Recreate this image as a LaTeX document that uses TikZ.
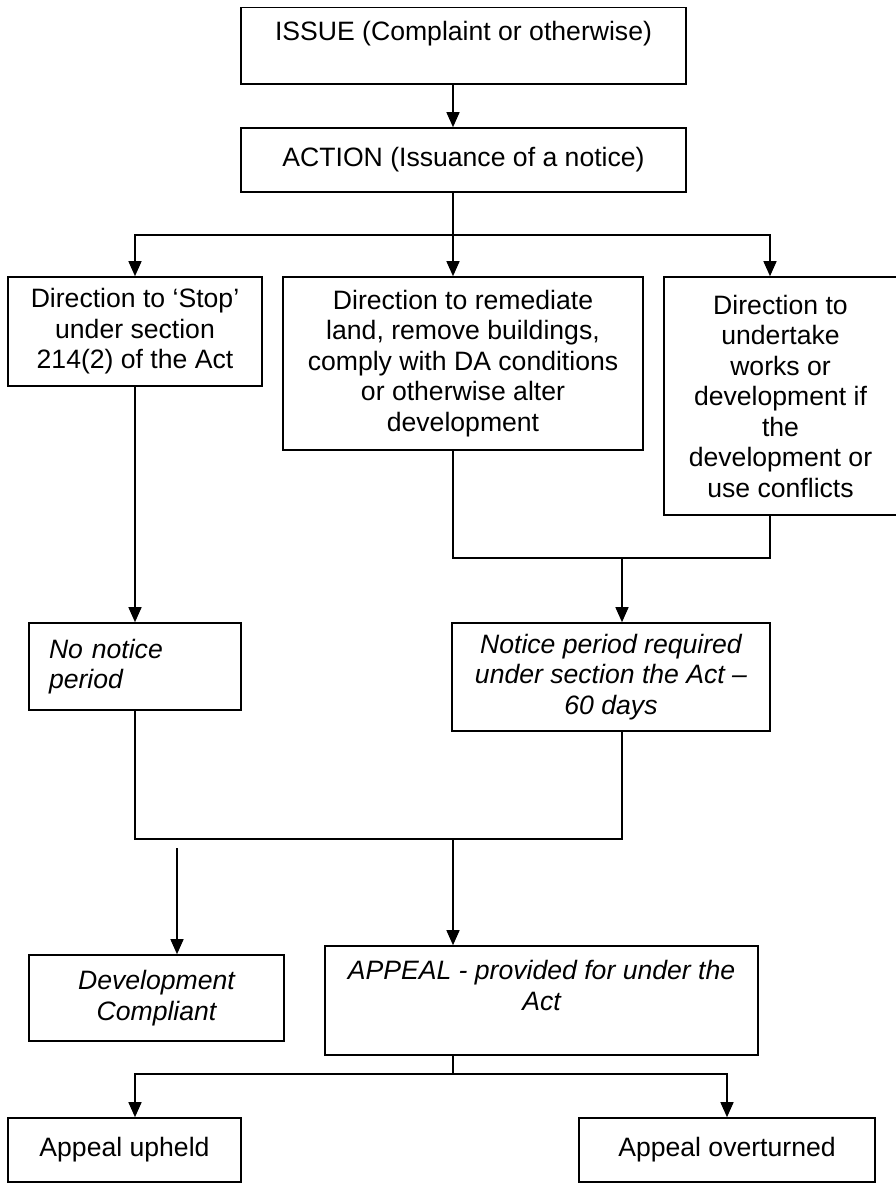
\documentclass[tikz,border=0pt]{standalone}
\usepackage{fontspec}
\setmainfont{Liberation Sans}
\usetikzlibrary{arrows.meta}

\begin{document}
\begin{tikzpicture}[x=1pt, y=-1pt, line width=1.4pt,
        box/.style={draw, line width=1.6pt, inner sep=0pt, align=center, font=\fontsize{26.6}{30.5}\selectfont},
        note/.style={box, font=\fontsize{26.6}{30.5}\selectfont\itshape},
        >={Triangle[length=15pt, width=13pt]}]
        \useasboundingbox (0,0) rectangle (895,1183);
        % boxes
        \node[box, minimum width=445pt, minimum height=76.5pt] (issue) at (463.5,45.75) {ISSUE (Complaint or otherwise)\\~};
        \node[box, minimum width=445pt, minimum height=64pt] (action) at (463.5,160) {ACTION (Issuance of a notice)};
        \node[box, minimum width=254pt, minimum height=109pt] (stop) at (135,331.5) {Direction to ‘Stop’\\under section\\214(2) of the Act};
        \node[box, minimum width=360pt, minimum height=173pt] (remed) at (463,363.5) {Direction to remediate\\land, remove buildings,\\comply with DA conditions\\or otherwise alter\\development};
        \node[box, minimum width=233pt, minimum height=238pt] (under) at (780.5,396) {Direction to\\undertake\\works or\\development if\\the\\development or\\use conflicts};
        \node[note, align=left, text width=172pt, minimum width=212pt, minimum height=87pt] (nonotice) at (135,666.5) {No notice\\period};
        \node[note, minimum width=318pt, minimum height=108pt] (notice) at (611,677) {Notice period required\\under section the Act –\\60 days};
        \node[note, minimum width=255pt, minimum height=86pt] (dev) at (156.5,998) {Development\\Compliant};
        \node[note, minimum width=433pt, minimum height=109pt] (appeal) at (541.5,1000.5) {APPEAL - provided for under the\\Act\\~};
        \node[box, minimum width=233pt, minimum height=64pt] (upheld) at (124.5,1150) {Appeal upheld};
        \node[box, minimum width=296pt, minimum height=64pt] (overt) at (727,1150) {Appeal overturned};
        % connector points
        \coordinate (colA) at (135,0);
        \coordinate (colB) at (453,0);
        \coordinate (colC) at (622,0);
        \coordinate (colD) at (770,0);
        \coordinate (split1) at (453,235);
        \coordinate (join1) at (622,558);
        \coordinate (join2) at (453,839);
        \coordinate (devtop) at (177,848);
        \coordinate (split3) at (453,1074);
        % connectors
        \draw[->] (issue.south -| colB) -- (action.north -| colB);
        \draw[->] (action.south -| colB) -- (remed.north -| colB);
        \draw[<->] (stop.north) |- (split1) -| (under.north -| colD);
        \draw[->] (stop.south) -- (nonotice.north);
        \draw (remed.south -| colB) |- (join1) -| (under.south -| colD);
        \draw[->] (join1) -- (notice.north -| colC);
        \draw (nonotice.south) |- (join2) -| (notice.south -| colC);
        \draw[->] (join2) -- (appeal.north -| colB);
        \draw[->] (devtop) -- (dev.north -| devtop);
        \draw (appeal.south -| colB) -- (split3);
        \draw[<->] (upheld.north -| colA) |- (split3) -| (overt.north);
    \end{tikzpicture}
\end{document}
